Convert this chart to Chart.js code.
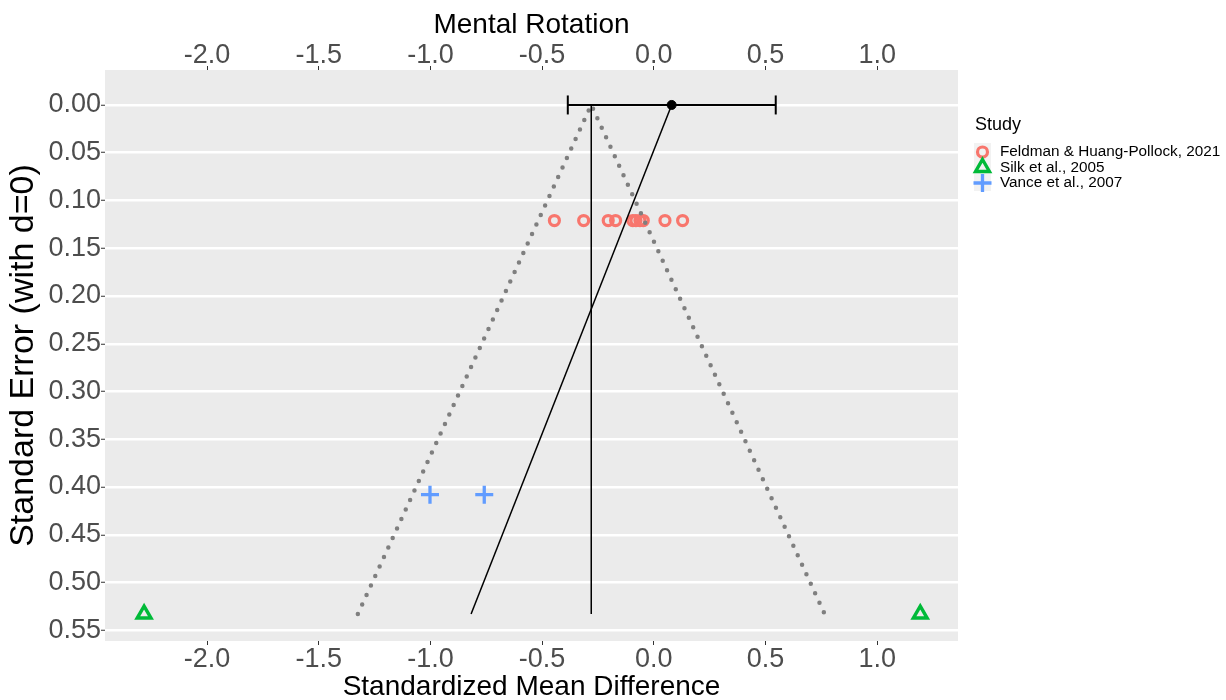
<!DOCTYPE html>
<html>
<head>
<meta charset="utf-8">
<title>Mental Rotation</title>
<script src="https://cdn.jsdelivr.net/npm/chart.js@4.4.1/dist/chart.umd.min.js"></script>
<style>
  html, body { margin: 0; padding: 0; background: #fff; }
</style>
</head>
<body>
<canvas id="funnel" width="1226" height="700"></canvas>
<script>
// effect sizes (SMD) and their standard errors, per study
var studyNames = ['Feldman & Huang-Pollock, 2021', 'Silk et al., 2005', 'Vance et al., 2007'];
var feldmanSMD = [-0.445, -0.314, -0.204, -0.171, -0.094, -0.080, -0.062, -0.047, 0.050, 0.129];
var feldmanSE  = [0.121, 0.121, 0.121, 0.121, 0.121, 0.121, 0.121, 0.121, 0.121, 0.121];
var silkSMD  = [-2.282, 1.193];
var silkSE   = [0.533, 0.533];
var vanceSMD = [-1.002, -0.759];
var vanceSE  = [0.408, 0.408];

// pooled estimate + 95% CI (drawn at se = 0)
var pooledSMD = 0.080;
var pooledLower = -0.385;
var pooledUpper = 0.546;

// funnel limits around the fixed centre
var funnelSMD = [-1.325, -0.280, 0.765];
var funnelSE  = [0.533, 0, 0.533];
var centreSMD = [-0.280, -0.280];
var centreSE  = [0, 0.533];

// regression (asymmetry) line
var eggerSMD = [0.080, -0.818];
var eggerSE  = [0, 0.533];

// axes
var xTicks = [-2.0, -1.5, -1.0, -0.5, 0.0, 0.5, 1.0];
var yTicks = [0.00, 0.05, 0.10, 0.15, 0.20, 0.25, 0.30, 0.35, 0.40, 0.45, 0.50, 0.55];
var xRange = [-2.457, 1.362];
var yRange = [-0.0366, 0.5612];

var FONT = '"Liberation Sans", Arial, sans-serif';
Chart.defaults.font.family = FONT;

function pts(xs, ys) {
  return xs.map(function (x, i) { return {x: x, y: ys[i]}; });
}

// grey panel behind the plot area
var panelBg = {
  id: 'panelBg',
  beforeDraw: function (chart) {
    var a = chart.chartArea, ctx = chart.ctx;
    ctx.save();
    ctx.fillStyle = '#EBEBEB';
    ctx.fillRect(a.left, a.top, a.right - a.left, a.bottom - a.top);
    ctx.restore();
  }
};

// legend on the right, only the three studies
var studyLegend = {
  id: 'studyLegend',
  afterDraw: function (chart) {
    var ctx = chart.ctx;
    var rows = [152, 167.5, 183];
    ctx.save();
    ctx.fillStyle = '#000';
    ctx.textBaseline = 'middle';
    ctx.font = '18px ' + FONT;
    ctx.fillText('Study', 975, 125);
    ctx.fillStyle = '#F2F2F2';
    ctx.fillRect(974, 143, 17, 48);
    chart.data.datasets.forEach(function (ds) {
      var i = studyNames.indexOf(ds.label);
      if (i < 0) return;
      ctx.strokeStyle = ds.borderColor;
      ctx.fillStyle = 'rgba(0,0,0,0)';
      ctx.lineWidth = ds.borderWidth;
      Chart.helpers.drawPoint(ctx, {
        pointStyle: ds.pointStyle, rotation: 0,
        radius: ds.pointRadius, borderWidth: ds.borderWidth
      }, 982.5, rows[i]);
      ctx.fillStyle = '#000';
      ctx.font = '15.3px ' + FONT;
      ctx.fillText(ds.label, 1000, rows[i]);
    });
    ctx.restore();
  }
};

var tickFont = {size: 27, family: FONT, lineHeight: 1.1};

function xAxis(pos, title, height) {
  return {
    type: 'linear',
    position: pos,
    min: xRange[0],
    max: xRange[1],
    afterBuildTicks: function (s) { s.ticks = xTicks.map(function (v) { return {value: v}; }); },
    afterFit: function (s) { s.height = height; },
    border: {display: false},
    grid: {drawOnChartArea: false, tickLength: 4, tickColor: '#333', tickWidth: 1},
    ticks: {
      autoSkip: false, maxRotation: 0, padding: 0, color: '#4D4D4D',
      font: pos === 'top' ? {size: 27, family: FONT, lineHeight: 0.75} : tickFont,
      callback: function (v) { return v.toFixed(1); }
    },
    title: {
      display: true, text: title, color: '#000',
      font: {size: 28, family: FONT, lineHeight: 0.9},
      padding: pos === 'top' ? {top: 12.8, bottom: 0} : {top: 0, bottom: 0}
    }
  };
}

new Chart(document.getElementById('funnel'), {
  type: 'scatter',
  data: {
    datasets: [
      {
        label: 'pooled',
        data: [{x: pooledSMD, y: 0}],
        pointRadius: 4.5, pointStyle: 'circle',
        backgroundColor: '#000', borderColor: '#000', borderWidth: 1
      },
      {
        label: 'ci',
        data: [{x: pooledLower, y: 0}, {x: pooledUpper, y: 0}],
        showLine: true, borderColor: '#000', borderWidth: 2,
        pointStyle: 'line', rotation: 90, pointRadius: 9.5,
        pointBorderColor: '#000', pointBorderWidth: 2
      },
      {
        label: 'egger',
        data: pts(eggerSMD, eggerSE),
        showLine: true, borderColor: '#000', borderWidth: 1.5, pointRadius: 0
      },
      {
        label: 'centre',
        data: pts(centreSMD, centreSE),
        showLine: true, borderColor: '#000', borderWidth: 1.5, pointRadius: 0
      },
      {
        label: 'funnel',
        data: pts(funnelSMD, funnelSE),
        showLine: true, borderColor: '#7F7F7F', borderWidth: 4.5,
        borderDash: [0, 10.45], borderCapStyle: 'round', borderJoinStyle: 'round',
        pointRadius: 0
      },
      {
        label: studyNames[0],
        data: pts(feldmanSMD, feldmanSE),
        pointStyle: 'circle', pointRadius: 5, borderWidth: 3.2,
        borderColor: '#F8766D', backgroundColor: 'rgba(0,0,0,0)'
      },
      {
        label: studyNames[1],
        data: pts(silkSMD, silkSE),
        pointStyle: 'triangle', pointRadius: 8, borderWidth: 3.4,
        borderColor: '#00BA38', backgroundColor: 'rgba(0,0,0,0)'
      },
      {
        label: studyNames[2],
        data: pts(vanceSMD, vanceSE),
        pointStyle: 'cross', pointRadius: 9, borderWidth: 3.3,
        borderColor: '#619CFF', backgroundColor: 'rgba(0,0,0,0)'
      }
    ]
  },
  options: {
    responsive: false,
    animation: false,
    events: [],
    devicePixelRatio: 1,
    layout: {padding: {left: 0, right: 268, top: 0, bottom: 0}},
    plugins: {legend: {display: false}, tooltip: {enabled: false}},
    scales: {
      x: xAxis('bottom', 'Standardized Mean Difference', 59),
      x2: xAxis('top', 'Mental Rotation', 70),
      y: {
        type: 'linear',
        position: 'left',
        reverse: true,
        min: yRange[0],
        max: yRange[1],
        afterBuildTicks: function (s) { s.ticks = yTicks.map(function (v) { return {value: v}; }); },
        afterFit: function (s) { s.width = 105; },
        border: {display: false},
        grid: {color: '#FFFFFF', lineWidth: 2.5, tickLength: 4, tickColor: '#333', tickWidth: 1},
        ticks: {
          autoSkip: false, padding: 0, color: '#4D4D4D', font: tickFont,
          callback: function (v) { return v.toFixed(2); }
        },
        title: {
          display: true, text: 'Standard Error (with d=0)', color: '#000',
          font: {size: 34, family: FONT, lineHeight: 0.9},
          padding: {top: 8.3, bottom: 0}
        }
      }
    }
  },
  plugins: [panelBg, studyLegend]
});
</script>
</body>
</html>
